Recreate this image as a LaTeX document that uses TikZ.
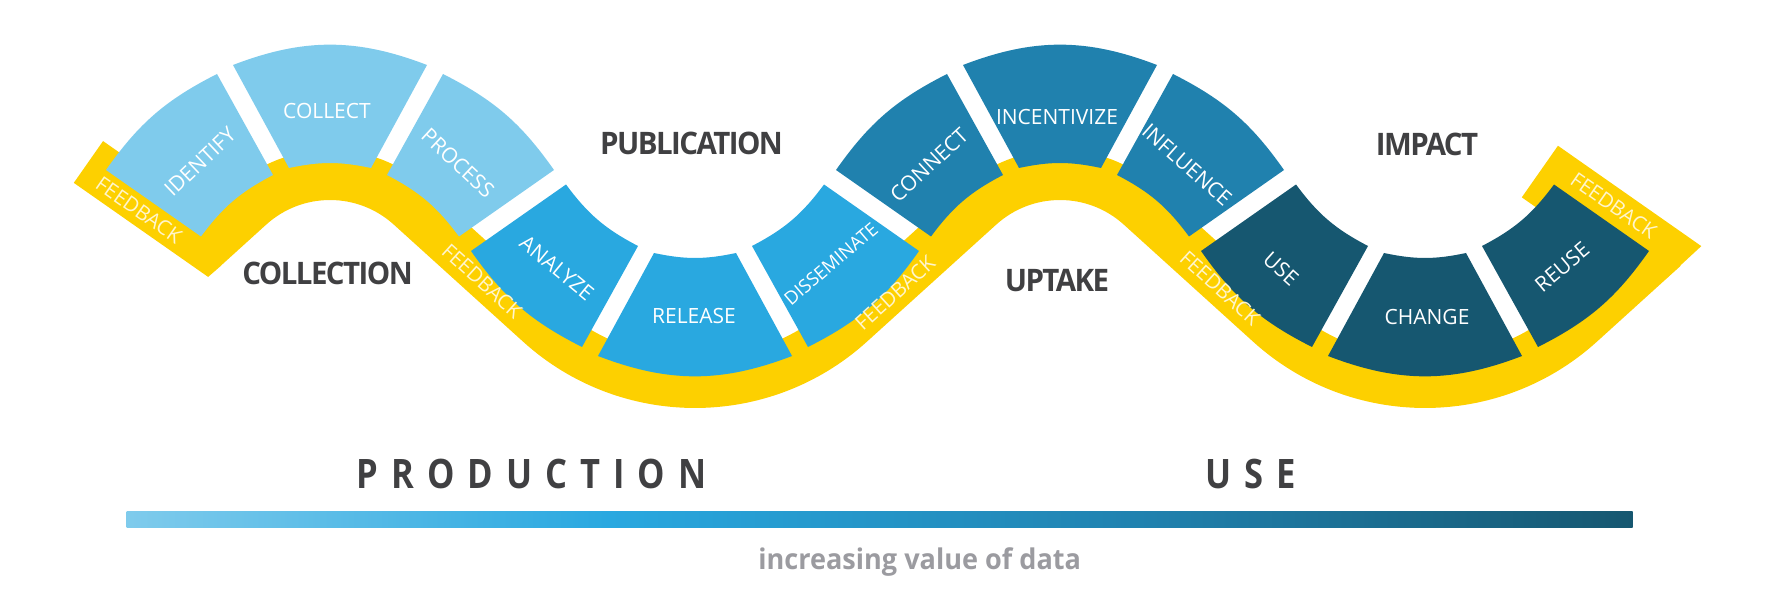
\documentclass[tikz,border=0pt]{standalone}
\usepackage{fontspec}
\setmainfont{Open Sans}
\newfontfamily\phasefont{Open Sans}[FakeStretch=0.95, LetterSpace=-5]
\newfontfamily\halffont{Open Sans}[FakeStretch=0.85, LetterSpace=32]
\newfontfamily\notefont{Open Sans}[FakeStretch=0.95]
\usetikzlibrary{calc}

\definecolor{lightblue}{RGB}{127,203,236}
\definecolor{midblue}{RGB}{41,168,224}
\definecolor{deepblue}{RGB}{32,129,174}
\definecolor{darkblue}{RGB}{22,87,112}
\definecolor{bandyellow}{RGB}{253,208,0}
\definecolor{feedtext}{RGB}{255,245,205}
\definecolor{labelgray}{RGB}{64,64,66}
\definecolor{notegray}{RGB}{155,155,160}

\pgfdeclarehorizontalshading{valuebar}{100bp}{color(0bp)=(lightblue); color(25bp)=(lightblue); color(41bp)=(midblue); color(59bp)=(deepblue); color(75bp)=(darkblue); color(100bp)=(darkblue)}

% angle where the band leaves a hump
\newcommand{\tanangle}{47.82}
% three stages of one hump; rotate by 180 for a trough
\newcommand{\stagegroup}[3]{%
  \begin{scope}[shift={(#1,383.5)}, rotate=#2, fill=#3]
    \fill (-129,-26) -- (-224,40.5) to[bend left=14] (-113,136.5) -- (-57,35.5) to[bend right=13] (-129,-26) -- cycle;
    \fill (-41,42.5) -- (-97,145.5) to[bend left=21] (97,145.5) -- (41,42.5) to[bend right=12] (-41,42.5) -- cycle;
    \fill (57,35.5) -- (113,136.5) to[bend left=14] (224,40.5) -- (129,-26) to[bend right=13] (57,35.5) -- cycle;
  \end{scope}}

\tikzset{
  stage/.style={text=white, inner sep=0pt},
  feedback/.style={text=feedtext, inner sep=0pt, font=\fontsize{20.5}{25}\selectfont},
  phase/.style={text=labelgray, inner sep=0pt, anchor=base, font=\phasefont\bfseries\fontsize{31}{36}\selectfont},
  half/.style={text=labelgray, inner sep=0pt, anchor=base west, font=\halffont\bfseries\fontsize{40.6}{46}\selectfont},
}

\begin{document}
\begin{tikzpicture}[x=1pt, y=1pt]
  \useasboundingbox (0,0) rectangle (1790,594);

  % feedback band under the stages
  \draw[bandyellow, line width=50pt] (203.5,346.3)
    \foreach \h/\t in {330/695, 1060/1425} {
      -- ($(\h,299)+({180-\tanangle}:120pt)$) arc[start angle={180-\tanangle}, end angle=\tanangle, radius=120pt]
      -- ($(\t,442)+({180+\tanangle}:231pt)$) arc[start angle={180+\tanangle}, end angle={360-\tanangle}, radius=231pt]
    } -- (1663.8,346.7);
  \begin{scope}[shift={(106,424)}, rotate=-35]
    \fill[bandyellow] (-19,-29) -- (-19,22) -- (145,22) -- (149,-13) -- (145,-29) -- cycle;
  \end{scope}
  \begin{scope}[shift={(1554,409.5)}, rotate=-35]
    \fill[bandyellow] (-19,-29) -- (-19,34) -- (156,34) -- (146,-12) -- (100,-29) -- cycle;
  \end{scope}

  \stagegroup{330}{0}{lightblue}
  \stagegroup{695}{180}{midblue}
  \stagegroup{1060}{0}{deepblue}
  \stagegroup{1425}{180}{darkblue}

  \foreach \stagename/\x/\y/\r/\s [count=\i] in {IDENTIFY/200/432/43.5/21, COLLECT/327/483/0/21, PROCESS/458/431/-43/21,
      ANALYZE/557/326/-39.5/21, RELEASE/694/278/0/21, DISSEMINATE/831/330/40.5/18.5,
      CONNECT/929/429/43/21, INCENTIVIZE/1057/477/0/21, INFLUENCE/1187/429/-41.5/21,
      USE/1281/325/-42/21, CHANGE/1427/277/0/21, REUSE/1562/327/40/21}
    \node[stage, rotate=\r, font=\fontsize{\s}{25}\selectfont] (stage-\i) at (\x,\y) {\stagename};

  \foreach \x/\y/\r [count=\i] in {138.9/383.9/-35, 482/313/-42.18, 895/301/42.18, 1220/306/-42.18, 1613.7/388.4/-35}
    \node[feedback, rotate=\r] (feedback-\i) at (\x,\y) {FEEDBACK};

  \node[phase] (collection) at (327.5,309) {COLLECTION};
  \node[phase] (publication) at (691.5,439) {PUBLICATION};
  \node[phase] (uptake) at (1057,302) {UPTAKE};
  \node[phase] (impact) at (1427,438) {IMPACT};

  % value scale
  \node[half] (production) at (356.7,105) {PRODUCTION};
  \node[half] (use) at (1205,105) {USE};
  \shade[shading=valuebar] (126.7,66.3) rectangle (1632.7,82.3);
  \node[text=notegray, inner sep=0pt, anchor=base, font=\notefont\bfseries\fontsize{28.5}{32}\selectfont] (value) at (919.7,24) {increasing value of data};
\end{tikzpicture}
\end{document}
